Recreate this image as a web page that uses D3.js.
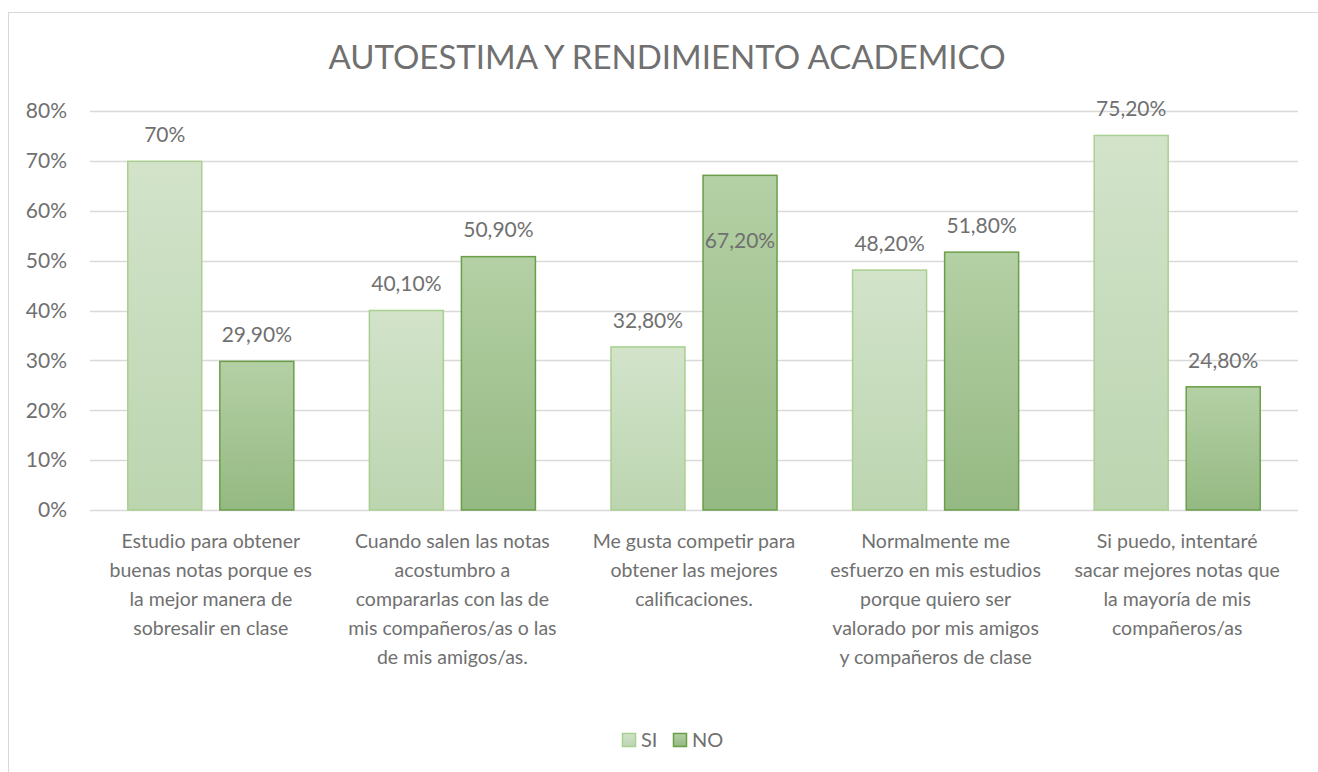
<!DOCTYPE html>
<html>
<head>
<meta charset="utf-8">
<script src="https://cdn.jsdelivr.net/npm/d3@7"></script>
<style>
  body { margin: 0; background: #fff; }
  text { font-family: Lato, "Open Sans", sans-serif; fill: #707070; }
</style>
</head>
<body>
<svg id="chart" width="1318" height="772"></svg>
<script>
// data
let categories = [
    "Estudio para obtener\nbuenas notas porque es\nla mejor manera de\nsobresalir en clase",
    "Cuando salen las notas\nacostumbro a\ncompararlas con las de\nmis compañeros/as o las\nde mis amigos/as.",
    "Me gusta competir para\nobtener las mejores\ncalificaciones.",
    "Normalmente me\nesfuerzo en mis estudios\nporque quiero ser\nvalorado por mis amigos\ny compañeros de clase",
    "Si puedo, intentaré\nsacar mejores notas que\nla mayoría de mis\ncompañeros/as"
];
let seriesNames = ["SI", "NO"];
let siValues = [0.70, 0.401, 0.328, 0.482, 0.752];
let noValues = [0.299, 0.509, 0.672, 0.518, 0.248];
let siLabels = ["70%", "40,10%", "32,80%", "48,20%", "75,20%"];
let noLabels = ["29,90%", "50,90%", "67,20%", "51,80%", "24,80%"];
let yTicks = [0, 0.1, 0.2, 0.3, 0.4, 0.5, 0.6, 0.7, 0.8];

let width = 1318, height = 772;
let plotLeft = 90, plotRight = 1298, plotTop = 111, plotBottom = 510;

let svg = d3.select('#chart');
let defs = svg.append('defs');

function grad(id, c1, c2) {
    let g = defs.append('linearGradient').attr('id', id)
        .attr('x1', 0).attr('y1', 0).attr('x2', 0).attr('y2', 1);
    g.append('stop').attr('offset', '0%').attr('stop-color', c1);
    g.append('stop').attr('offset', '100%').attr('stop-color', c2);
}
grad('gSI', '#d2e3ca', '#bcd5b0');
grad('gNO', '#b4d0a5', '#95b982');

let fills = ["url(#gSI)", "url(#gNO)"];
let strokes = ["#a9d08e", "#6a9f47"];

// outer frame
svg.append('rect')
    .attr('x', 8.5).attr('y', 12.5)
    .attr('width', 1320).attr('height', 780)
    .attr('fill', 'none').attr('stroke', '#d9d9d9');

let x = d3.scaleBand()
    .domain(d3.range(categories.length))
    .range([plotLeft, plotRight]);

let x1 = d3.scaleBand()
    .domain([0, 1])
    .range([0, x.bandwidth()])
    .paddingInner(0.185)
    .paddingOuter(0.405);

let y = d3.scaleLinear()
    .domain([0, 0.8])
    .range([plotBottom, plotTop]);

// gridlines
svg.append('g')
    .selectAll('line')
    .data(yTicks)
    .join('line')
    .attr('x1', plotLeft).attr('x2', plotRight)
    .attr('y1', d => Math.round(y(d)) + 0.5)
    .attr('y2', d => Math.round(y(d)) + 0.5)
    .attr('stroke', '#d9d9d9')
    .attr('stroke-width', 1.3);

// y labels
svg.append('g')
    .selectAll('text')
    .data(yTicks)
    .join('text')
    .attr('x', 67)
    .attr('y', d => y(d))
    .attr('dy', '0.35em')
    .attr('text-anchor', 'end')
    .style('font-size', '21px')
    .text(d => d3.format('.0%')(d));

// title
svg.append('text')
    .attr('x', 667).attr('y', 57)
    .attr('dy', '0.35em')
    .attr('text-anchor', 'middle')
    .style('font-size', '33px')
    .text('AUTOESTIMA Y RENDIMIENTO ACADEMICO');

let series = [siValues, noValues];
let labels = [siLabels, noLabels];

series.forEach(function (vals, s) {
    let g = svg.append('g');
    g.selectAll('rect')
        .data(vals)
        .join('rect')
        .attr('x', (d, i) => x(i) + x1(s) + 0.5)
        .attr('y', d => y(d) + 0.5)
        .attr('width', x1.bandwidth() - 1)
        .attr('height', d => plotBottom - y(d) - 0.5)
        .attr('fill', fills[s])
        .attr('stroke', strokes[s])
        .attr('stroke-width', 1.5);

    g.selectAll('text')
        .data(vals)
        .join('text')
        .attr('x', (d, i) => x(i) + x1(s) + x1.bandwidth() / 2)
        // the 67,20% label sits inside the bar in the original
        .attr('y', (d, i) => (s === 1 && i === 2) ? y(d) + 66 : y(d) - 26)
        .attr('dy', '0.35em')
        .attr('text-anchor', 'middle')
        .style('font-size', '21px')
        .text((d, i) => labels[s][i]);
});

// category labels
let cat = svg.append('g')
    .selectAll('text')
    .data(categories)
    .join('text')
    .attr('x', (d, i) => x(i) + x.bandwidth() / 2)
    .attr('y', 541)
    .attr('text-anchor', 'middle')
    .style('font-size', '19.5px');

cat.each(function (d) {
    let t = d3.select(this);
    d.split('\n').forEach(function (line, k) {
        t.append('tspan')
            .attr('x', t.attr('x'))
            .attr('dy', k === 0 ? '0.35em' : 29)
            .text(line);
    });
});

// legend
let legend = svg.append('g');
let legendX = [622, 673];
seriesNames.forEach(function (name, s) {
    legend.append('rect')
        .attr('x', legendX[s] + 0.5).attr('y', 733.5)
        .attr('width', 13).attr('height', 13)
        .attr('fill', fills[s])
        .attr('stroke', strokes[s])
        .attr('stroke-width', 1.5);
    legend.append('text')
        .attr('x', legendX[s] + 19)
        .attr('y', 740)
        .attr('dy', '0.35em')
        .style('font-size', '20px')
        .text(name);
});
</script>
</body>
</html>
